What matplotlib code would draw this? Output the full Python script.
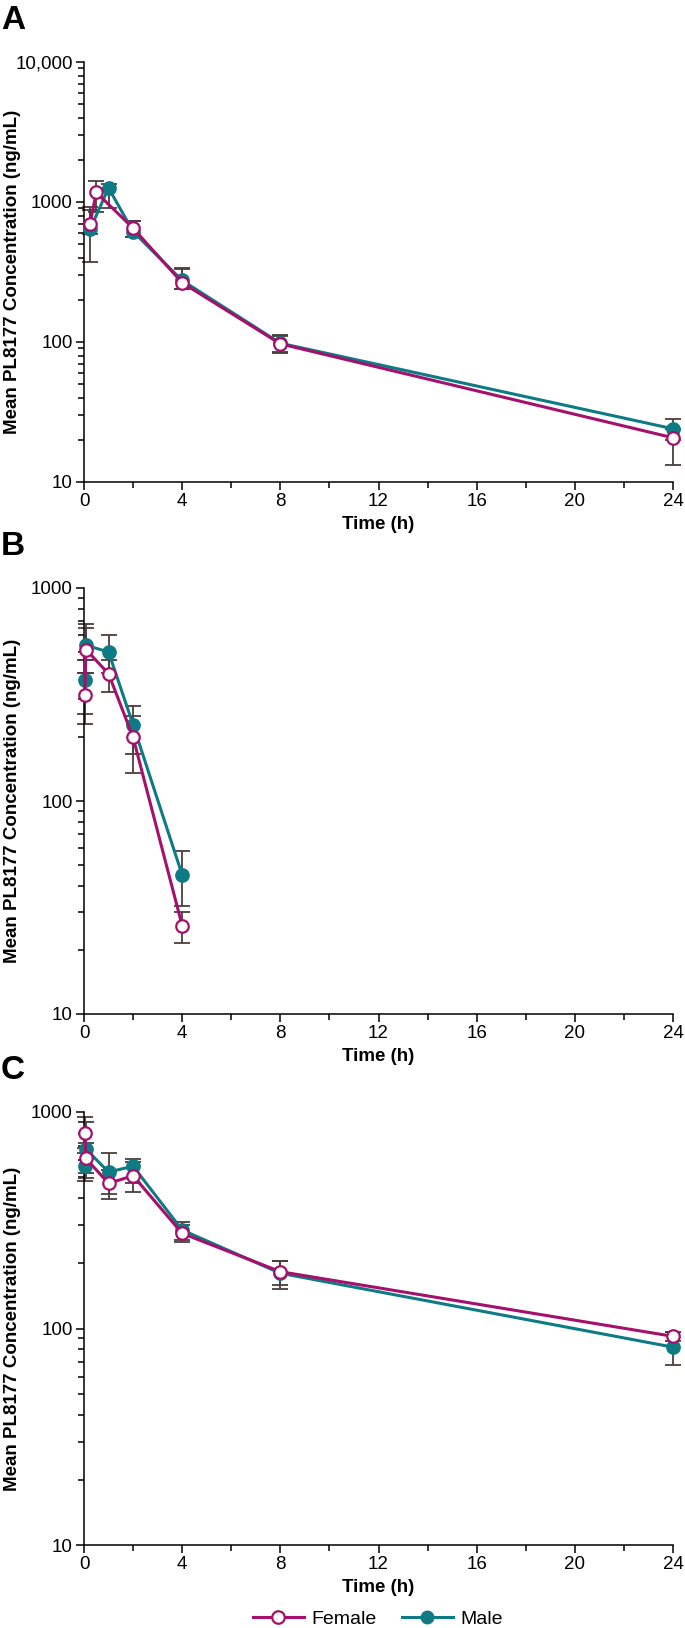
import numpy as np
import matplotlib
matplotlib.use("Agg")
import matplotlib.pyplot as plt
from matplotlib.ticker import FixedLocator, FixedFormatter
from matplotlib.lines import Line2D

plt.rcParams["font.family"] = ["Liberation Sans", "DejaVu Sans"]

# ---- data ----
# Panel A
a_f_t = [0.25, 0.5, 2, 4, 8, 24]
a_f_mean = [700, 1170, 650, 265, 97, 20.7]
a_f_lo = [590, 850, 565, 240, 85, 13.2]
a_f_hi = [870, 1420, 735, 330, 110, 24]
a_m_t = [0.25, 1, 2, 4, 8, 24]
a_m_mean = [640, 1260, 615, 275, 98, 24]
a_m_lo = [370, 900, 565, 240, 83, 20]
a_m_hi = [916, 1350, 735, 336, 112, 28.2]

# Panel B
b_t = [0.03, 0.08, 1, 2, 4]
b_f_mean = [313, 514, 396, 199, 26]
b_f_lo = [231, 457, 326, 135, 21.5]
b_f_hi = [397, 646, 461, 251, 30]
b_m_mean = [368, 538, 501, 228, 45]
b_m_lo = [255, 397, 400, 167, 32]
b_m_hi = [460, 681, 600, 279, 58]

# Panel C
c_t = [0.03, 0.08, 1, 2, 4, 8, 24]
c_f_mean = [800, 610, 468, 508, 275, 183, 92]
c_f_lo = [680, 495, 395, 426, 255, 158, 88]
c_f_hi = [950, 720, 540, 590, 300, 205, 96]
c_m_mean = [563, 674, 528, 562, 285, 180, 82]
c_m_lo = [480, 520, 420, 470, 250, 152, 68]
c_m_hi = [650, 896, 645, 607, 310, 205, 96]

x_ticks = [0, 4, 8, 12, 16, 20, 24]
FEMALE = "#a5106c"
MALE = "#0e7b84"
ERR = "#4a3f3d"
FS = 13.5

W, H = 685, 1628
fig = plt.figure(figsize=(W / 100, H / 100), dpi=100, facecolor="white")


def box(l, t, r, b):
    return [l / W, 1 - b / H, (r - l) / W, (b - t) / H]


def series(ax, t, mean, lo, hi, color, face):
    mean = np.array(mean)
    yerr = [mean - np.array(lo), np.array(hi) - mean]
    ax.errorbar(t, mean, yerr=yerr, fmt="none", ecolor=ERR, elinewidth=1.3,
                capsize=5.5, capthick=1.3, zorder=2, clip_on=False)
    ax.plot(t, mean, color=color, lw=2.2, marker="o", ms=9, mfc=face,
            mec=color, mew=1.6, zorder=3, clip_on=False)


def style(ax, top):
    ax.set_yscale("log")
    ax.set_xlim(0, 24)
    ax.set_ylim(10, top)
    for s in ["top", "right"]:
        ax.spines[s].set_visible(False)
    for s in ["left", "bottom"]:
        ax.spines[s].set_linewidth(1.1)
    majors = [v for v in [10, 100, 1000, 10000] if v <= top]
    labels = ["10,000" if v == 10000 else str(v) for v in majors]
    ax.yaxis.set_major_locator(FixedLocator(majors))
    ax.yaxis.set_major_formatter(FixedFormatter(labels))
    minors = [m * d for d in [10, 100, 1000] for m in range(2, 10) if m * d < top]
    ax.yaxis.set_minor_locator(FixedLocator(minors))
    ax.yaxis.set_minor_formatter(FixedFormatter([""] * len(minors)))
    ax.set_xticks(x_ticks)
    ax.set_xticks([2, 6, 10, 14, 18, 22], minor=True)
    ax.tick_params(which="major", direction="out", length=6, width=1.1,
                   labelsize=FS, pad=2)
    ax.tick_params(which="minor", direction="out", length=4, width=1.1)
    ax.set_xlabel("Time (h)", fontsize=FS, fontweight="bold", labelpad=4)
    ax.set_ylabel("Mean PL8177 Concentration (ng/mL)", fontsize=FS,
                  fontweight="bold")
    ax.yaxis.set_label_coords(-0.107, 0.5)


axA = fig.add_axes(box(84, 62, 673, 482))
series(axA, a_m_t, a_m_mean, a_m_lo, a_m_hi, MALE, MALE)
series(axA, a_f_t, a_f_mean, a_f_lo, a_f_hi, FEMALE, "white")
style(axA, 10000)

axB = fig.add_axes(box(84, 588, 673, 1014))
series(axB, b_t, b_m_mean, b_m_lo, b_m_hi, MALE, MALE)
series(axB, b_t, b_f_mean, b_f_lo, b_f_hi, FEMALE, "white")
style(axB, 1000)

axC = fig.add_axes(box(84, 1112, 673, 1545))
series(axC, c_t, c_m_mean, c_m_lo, c_m_hi, MALE, MALE)
series(axC, c_t, c_f_mean, c_f_lo, c_f_hi, FEMALE, "white")
style(axC, 1000)

for letter, top in zip("ABC", [5, 531, 1055]):
    fig.text(1 / W, 1 - top / H, letter, fontsize=24, fontweight="bold",
             va="top", ha="left")

handles = [
    Line2D([], [], color=FEMALE, lw=2.2, marker="o", ms=9, mfc="white",
           mec=FEMALE, mew=1.6),
    Line2D([], [], color=MALE, lw=2.2, marker="o", ms=9, mfc=MALE, mec=MALE),
]
fig.legend(handles, ["Female", "Male"], loc="center",
           bbox_to_anchor=(378 / W, 1 - 1619 / H), ncol=2, frameon=False,
           fontsize=14, handlelength=2.6, handletextpad=0.4,
           columnspacing=1.3, borderpad=0)

fig.savefig("out.png", dpi=100, facecolor="white")
